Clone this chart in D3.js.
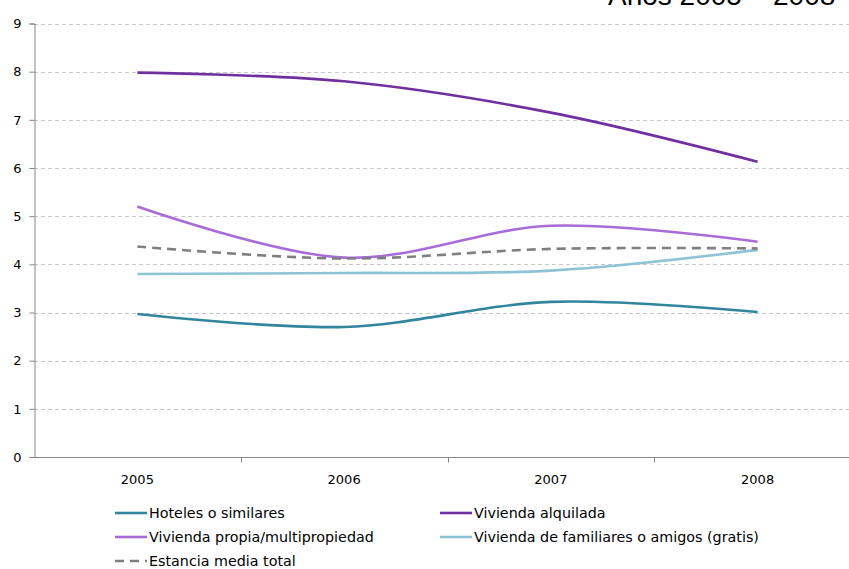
<!DOCTYPE html>
<html><head><meta charset="utf-8">
<script src="https://cdn.jsdelivr.net/npm/d3@7"></script>
<style>body{margin:0;background:#fff}svg{display:block}</style>
</head><body>
<svg id="c" width="849" height="569"></svg>
<script>
const years = ["2005","2006","2007","2008"];
const yTicks = [0,1,2,3,4,5,6,7,8,9];
const hoteles = [2.97, 2.70, 3.22, 3.01];
const alquilada = [7.98, 7.80, 7.15, 6.13];
const propia = [5.20, 4.14, 4.80, 4.47];
const familiares = [3.80, 3.82, 3.87, 4.30];
const estancia = [4.37, 4.12, 4.32, 4.33];
const seriesNames = ["Hoteles o similares","Vivienda alquilada","Vivienda propia/multipropiedad","Vivienda de familiares o amigos (gratis)","Estancia media total"];
const title = "Años 2005 – 2008";

const series = [
  {name: seriesNames[0], values: hoteles, color: "#31859C", dash: null},
  {name: seriesNames[1], values: alquilada, color: "#7030A0", dash: null},
  {name: seriesNames[2], values: propia, color: "#A86CD8", dash: null},
  {name: seriesNames[3], values: familiares, color: "#8EC3D6", dash: null},
  {name: seriesNames[4], values: estancia, color: "#7F7F7F", dash: "9,6"}
];

const svg = d3.select("#c");
const L = 34, R = 861, T = 23.5, B = 457;
const x = d3.scaleBand().domain(years).range([L, R]);
const y = d3.scaleLinear().domain([0, 9]).range([B, T]);
const font = "'DejaVu Sans', Verdana, sans-serif";

// gridlines
svg.append("g").selectAll("line").data(yTicks.filter(d => d > 0)).join("line")
  .attr("x1", L).attr("x2", 849).attr("y1", d => Math.round(y(d)) + 0.5).attr("y2", d => Math.round(y(d)) + 0.5)
  .attr("stroke", "#c8c8c8").attr("stroke-dasharray", "4,3").attr("stroke-width", 1);

// y axis
const ya = svg.append("g").attr("transform", `translate(${L + 0.5},0)`)
  .call(d3.axisLeft(y).tickValues(yTicks).tickSize(5).tickPadding(8));
ya.select(".domain").attr("stroke", "#868686");
ya.selectAll(".tick line").attr("stroke", "#868686");
ya.selectAll("text").attr("font-family", font).attr("font-size", 13).attr("fill", "#000");

// x axis
const xa = svg.append("g").attr("transform", `translate(0,${B + 0.5})`);
xa.append("line").attr("x1", L).attr("x2", R).attr("stroke", "#868686");
xa.selectAll("line.t").data(years.slice(1)).join("line").attr("class", "t")
  .attr("x1", d => Math.round(x(d)) + 0.5).attr("x2", d => Math.round(x(d)) + 0.5)
  .attr("y1", 0).attr("y2", 5).attr("stroke", "#868686");
xa.selectAll("text").data(years).join("text")
  .attr("x", d => x(d) + x.bandwidth() / 2).attr("y", 26)
  .attr("text-anchor", "middle").attr("font-family", font).attr("font-size", 13).text(d => d);

// lines
const line = d3.line().x((d, i) => x(years[i]) + x.bandwidth() / 2).y(d => y(d))
  .curve(d3.curveCatmullRom.alpha(0.5));
svg.append("g").selectAll("path").data(series).join("path")
  .attr("d", d => line(d.values)).attr("fill", "none")
  .attr("stroke", d => d.color).attr("stroke-width", 2.6)
  .attr("stroke-dasharray", d => d.dash);

// legend
const legPos = [[115, 518], [440, 518], [115, 542], [440, 542], [115, 566]];
const lg = svg.append("g").selectAll("g").data(series).join("g")
  .attr("transform", (d, i) => `translate(${legPos[i][0]},${legPos[i][1]})`);
lg.append("line").attr("x1", 0).attr("x2", 32).attr("y1", -5).attr("y2", -5)
  .attr("stroke", d => d.color).attr("stroke-width", 2.6).attr("stroke-dasharray", d => d.dash);
lg.append("text").attr("x", 34).attr("y", 0).attr("font-family", font).attr("font-size", 14.3)
  .text(d => d.name);

// title (cut off at top, as in the reference)
svg.append("text").attr("x", 608).attr("y", 5).attr("font-family", "'Liberation Sans', Arial, sans-serif")
  .attr("font-size", 28).text(title);
</script>
</body></html>
